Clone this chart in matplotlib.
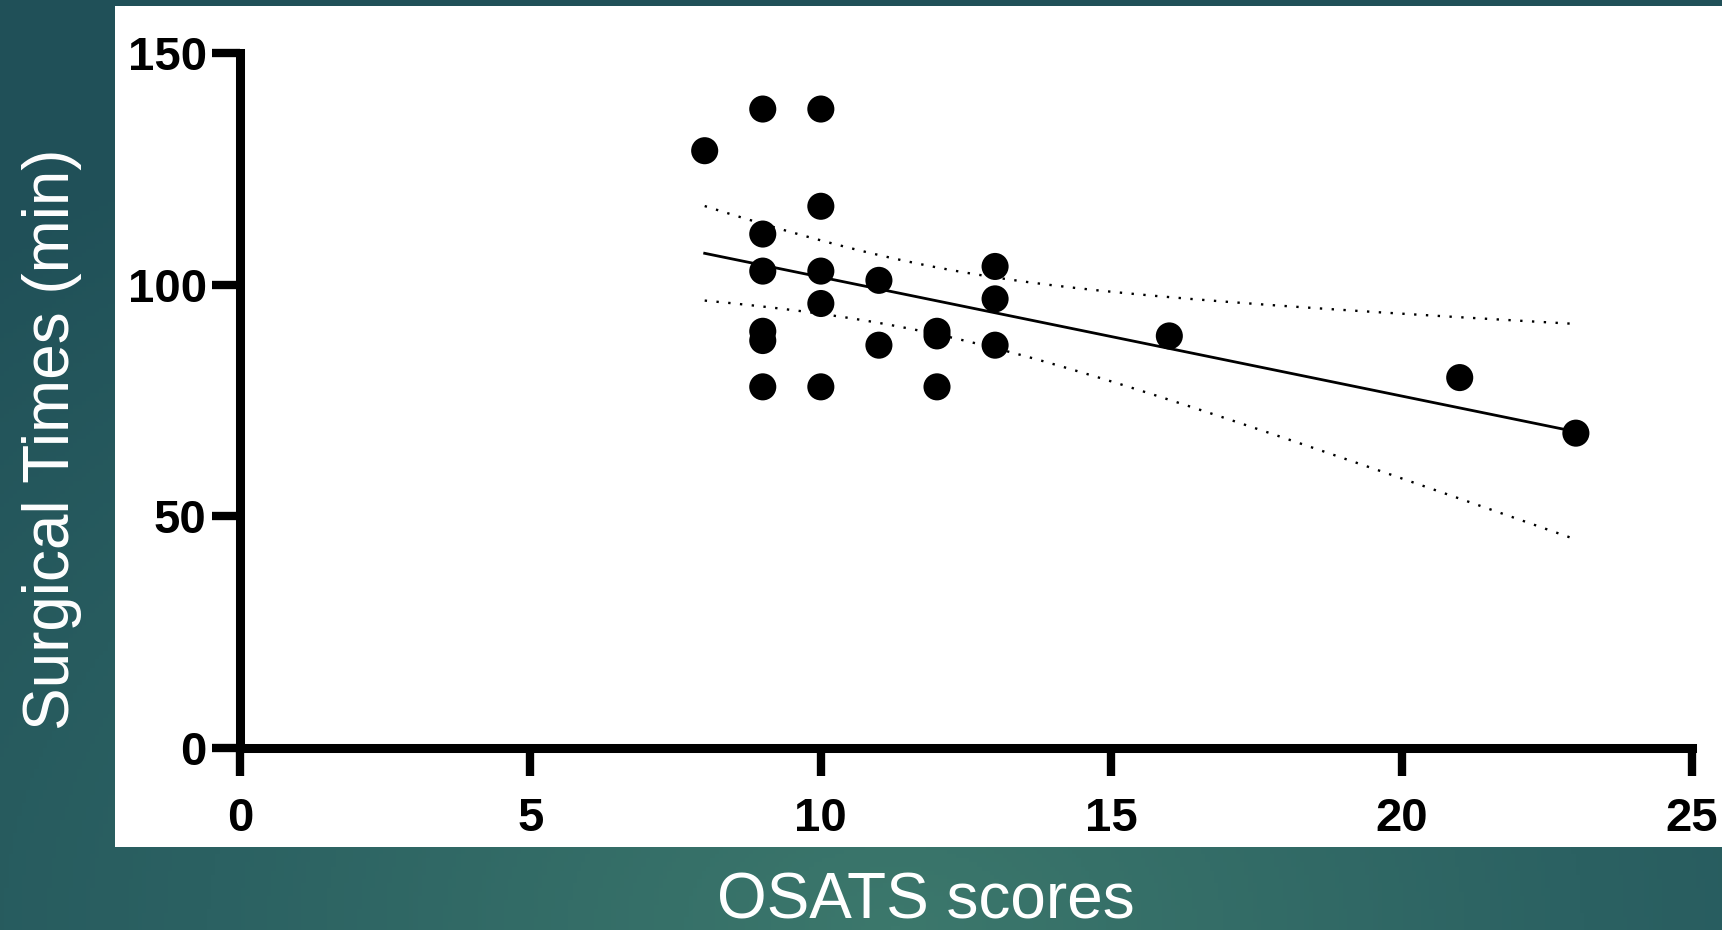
import numpy as np
import matplotlib
matplotlib.use('Agg')
import matplotlib.pyplot as plt
from matplotlib.patches import Rectangle
from matplotlib.colors import LinearSegmentedColormap

# OSATS score vs surgical time, one point per case
osats = [8, 9, 10, 10, 9, 9, 10, 11, 13, 13, 10, 9, 9, 12, 12, 11, 13, 9, 10, 12, 16, 21, 23]
times = [129, 138, 138, 117, 111, 103, 103, 101, 104, 97, 96, 90, 88, 90, 89, 87, 87, 78, 78, 78, 89, 80, 68]

x_ticks = [0, 5, 10, 15, 20, 25]
y_ticks = [0, 50, 100, 150]

label_font = ['Liberation Sans', 'DejaVu Sans']
tick_font = ['Liberation Sans', 'DejaVu Sans']

x = np.array(osats, dtype=float)
y = np.array(times, dtype=float)

# linear fit + 95% confidence band of the mean
n = len(x)
slope, intercept = np.polyfit(x, y, 1)
resid = y - (slope * x + intercept)
s = np.sqrt(np.sum(resid ** 2) / (n - 2))
sxx = np.sum((x - x.mean()) ** 2)
t_crit = 2.080  # t(0.975, df=21)
xf = np.linspace(x.min(), x.max(), 200)
yf = slope * xf + intercept
half = t_crit * s * np.sqrt(1 / n + (xf - x.mean()) ** 2 / sxx)

fig = plt.figure(figsize=(17.22, 9.30), dpi=100)

# slide background: teal radial gradient with a white panel
bg = fig.add_axes([0, 0, 1, 1], zorder=-5)
gx, gy = np.meshgrid(np.linspace(0, 1, 400), np.linspace(0, 1, 220))
dist = np.sqrt(((gx - 0.52) / 0.8) ** 2 + ((gy - 0.0) / 1.0) ** 2)
cmap = LinearSegmentedColormap.from_list('slide', ['#3c786c', '#2b6162', '#205058'])
bg.imshow(np.clip(dist, 0, 1), cmap=cmap, extent=[0, 1, 0, 1], origin='lower',
          aspect='auto', vmin=0, vmax=1)
bg.add_patch(Rectangle((0.0668, 0.0892), 1 - 0.0668, 0.9935 - 0.0892,
                       transform=bg.transAxes, facecolor='white', edgecolor='none'))
bg.set_xlim(0, 1)
bg.set_ylim(0, 1)
bg.axis('off')

ax = fig.add_axes([0.1394, 0.1957, 0.8432, 0.7468])
ax.set_facecolor('none')

ax.plot(xf, yf, color='black', lw=2.0, zorder=2)
ax.plot(xf, yf + half, color='black', lw=1.7, ls=(0, (1, 4)), zorder=2)
ax.plot(xf, yf - half, color='black', lw=1.7, ls=(0, (1, 4)), zorder=2)
ax.scatter(x, y, s=380, color='black', edgecolors='none', zorder=3, clip_on=False)

ax.set_xlim(0, 25)
ax.set_ylim(0, 150)
ax.set_xticks(x_ticks)
ax.set_yticks(y_ticks)

for side in ['top', 'right']:
    ax.spines[side].set_visible(False)
for side in ['left', 'bottom']:
    ax.spines[side].set_linewidth(6.5)
    ax.spines[side].set_capstyle('projecting')

ax.tick_params(axis='both', direction='out', length=20, width=6, color='black')
ax.tick_params(axis='x', pad=15)
ax.tick_params(axis='y', pad=4)
for lab in ax.get_xticklabels() + ax.get_yticklabels():
    lab.set_fontfamily(tick_font)
    lab.set_fontweight('bold')
    lab.set_fontsize(34)

fig.text(0.030, 0.528, 'Surgical Times (min)', rotation=90, ha='center', va='center',
         color='white', fontsize=46, family=label_font)
fig.text(0.5377, 0.012, 'OSATS scores', ha='center', va='baseline',
         color='white', fontsize=46, family=label_font)

fig.savefig('out.png', dpi=100)
